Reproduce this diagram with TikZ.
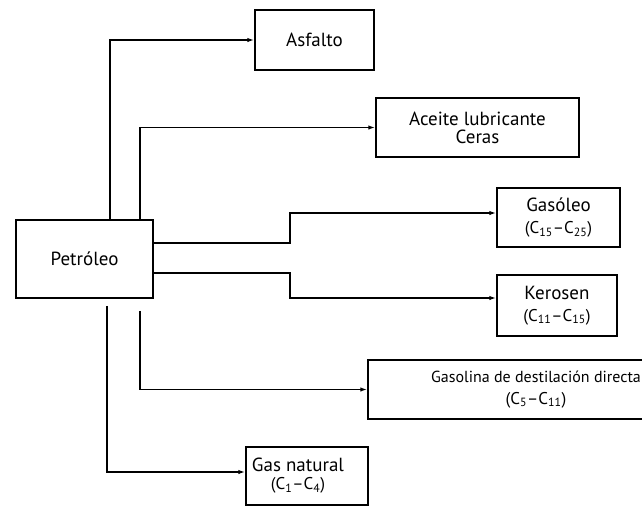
\documentclass[tikz,border=0pt]{standalone}
\usepackage{fontspec}
\setmainfont{PT Sans}
\usetikzlibrary{arrows.meta}
\newcommand{\frm}[2]{{\fontsize{17}{20}\selectfont (C\textsubscript{#1}--C\textsubscript{#2})}}
\begin{document}
\begin{tikzpicture}[x=1pt,y=-1pt,
  box/.style={draw,line width=1.5pt,inner sep=0pt,align=center,
    font=\fontsize{19}{22}\selectfont},
  conn/.style={line width=1.5pt,-{Latex[length=7pt,width=4.5pt]}}]
\useasboundingbox (0,0) rectangle (642,507);

% products of the refinery and the crude oil source
\node[box,minimum width=137pt,minimum height=78pt] (pet) at (84.5,259) {Petróleo};
\node[box,minimum width=119pt,minimum height=60pt] (asf) at (314.5,40) {Asfalto};
\node[box,minimum width=203pt,minimum height=59pt] (ace) at (477.5,127.5)
  {Aceite lubricante\\[-4pt]Ceras};
\node[box,minimum width=123pt,minimum height=59pt] (gaso) at (558.5,217.5)
  {Gasóleo\\\frm{15}{25}};
\node[box,minimum width=120pt,minimum height=61pt] (ker) at (557,305.5)
  {Kerosen\\\frm{11}{15}};
\node[box,minimum width=336pt,minimum height=59pt] (gasl) at (536,389.5)
  {{\fontsize{16}{19}\selectfont Gasolina de destilación directa}\\\frm{5}{11}};
\node[box,minimum width=122pt,minimum height=58pt] (gasn) at (307,476)
  {Gas natural\hspace*{18pt}\\[-4pt]\frm{1}{4}\hspace*{18pt}};

% connectors
\draw[conn] ([xshift=25.5pt]pet.north) |- (asf.west);
\draw[conn] ([xshift=55.5pt]pet.north) |- (ace.west);
\draw[conn] ([yshift=16pt]pet.east) -- ++(136,0) |- ([yshift=4.5pt]gaso.west);
\draw[conn] ([yshift=-14pt]pet.east) -- ++(136,0) |- ([yshift=7.5pt]ker.west);
\draw[conn,shorten <=12pt] ([xshift=55.5pt]pet.south) |- (gasl.west);
\draw[conn,shorten <=7pt] ([xshift=22.5pt]pet.south) |- ([yshift=4pt]gasn.west);
\end{tikzpicture}
\end{document}
